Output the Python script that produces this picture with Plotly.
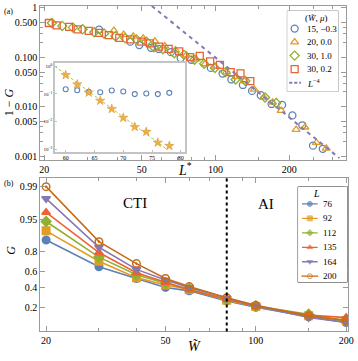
import numpy as np
import plotly.graph_objects as go

# ---------------- panel (a): 1 - G versus L* ----------------
blue_L = [33.5, 44.9, 48.9, 54.6, 58.7, 65.8, 72.1, 79.6, 95.7, 106.9, 116.1, 129.4,
          141, 153.1, 169.4, 187, 206, 226, 250, 274]
blue_v = [0.358, 0.205, 0.175, 0.154, 0.146, 0.126, 0.0955, 0.0885, 0.0606, 0.0467,
          0.0355, 0.0275, 0.0209, 0.0171, 0.0114, 0.0109, 0.0067, 0.00424, 0.00165, 0.00142]

orange_L = [38.5, 42.2, 46.2, 50.7, 56.6, 62.1, 68.7, 76.0, 83.4, 90.6, 99.5, 110.9,
            121.6, 131.3, 143.9, 157.4, 171, 185.3, 213.3, 231.7, 258.2, 283.1]
orange_v = [0.343, 0.285, 0.261, 0.238, 0.207, 0.167, 0.138, 0.110, 0.0913, 0.0727,
            0.0654, 0.0498, 0.0402, 0.0330, 0.0225, 0.0154, 0.0123, 0.0084, 0.00347,
            0.00387, 0.00189, 0.00146]

green_L = [21.5, 23.7, 26.2, 28.7, 32.0, 35.1, 39.1, 42.8, 47.6, 52.3, 56.1, 61.0,
           67.9, 74.4, 82.1, 89.9, 99.5, 109.9, 120.8, 132.4, 159.3, 177]
green_v = [0.487, 0.425, 0.393, 0.363, 0.317, 0.299, 0.264, 0.241, 0.227, 0.205, 0.158,
           0.144, 0.120, 0.111, 0.0885, 0.0737, 0.0606, 0.0498, 0.0355, 0.0330, 0.0154,
           0.0119]

red_L = [20.9, 22.5, 25.3, 27.4, 30.4, 33.5, 36.7, 40.5, 44.9, 49.9, 54.0, 58.8, 64.4,
         71.1, 78.7, 86.3, 95.1, 104.3, 115.4, 126.5, 138.7]
red_v = [0.487, 0.436, 0.405, 0.363, 0.338, 0.308, 0.277, 0.245, 0.227, 0.205, 0.189,
         0.163, 0.146, 0.130, 0.100, 0.106, 0.082, 0.070, 0.050, 0.047, 0.033]

power_L = [55, 320]
power_v = [1.07, 0.00093]

# inset
inset_x = [60, 62, 64, 66, 68, 70, 72, 74, 76, 78]
inset_circ = [0.147, 0.135, 0.119, 0.115, 0.132, 0.122, 0.098, 0.103, 0.098, 0.109]
inset_star = [0.479, 0.221, 0.112, 0.0569, 0.0285, 0.01365, 0.00638, 0.00423, 0.00172, 0.00132]
fit_x = [58.1, 77.7]
fit_y = [1.0, 0.00095]

# ---------------- panel (b): G versus W ----------------
W = [20, 30, 40, 50, 60, 80, 100, 150, 200]
sizes = ["76", "92", "112", "135", "164", "200"]
G = {
    "76": [0.875, 0.65, 0.51, 0.40, 0.36, 0.255, 0.20, 0.135, 0.105],
    "92": [0.917, 0.71, 0.52, 0.43, 0.375, 0.26, 0.205, 0.14, 0.115],
    "112": [0.946, 0.75, 0.555, 0.45, 0.385, 0.265, 0.21, 0.15, 0.11],
    "135": [0.965, 0.79, 0.58, 0.46, 0.37, 0.27, 0.205, 0.145, 0.13],
    "164": [0.982, 0.83, 0.62, 0.49, 0.40, 0.28, 0.21, 0.13, 0.105],
    "200": [0.990, 0.866, 0.685, 0.51, 0.41, 0.285, 0.215, 0.14, 0.115],
}
g_ticks = [0.2, 0.4, 0.6, 0.8, 0.95, 0.99]
w_crit = 80


def logit(p):
    p = np.asarray(p, dtype=float)
    return np.log(p / (1 - p))


FONT = "Liberation Serif"
C_BLUE, C_ORANGE, C_GREEN = "#5E81B5", "#E19C24", "#8FB032"
C_RED, C_PURPLE, C_BROWN = "#EB6235", "#8778B3", "#C56E1A"
FRAME = "#9a9a9a"

fig = go.Figure()

open_series = [
    ("15, \u22120.3", blue_L, blue_v, C_BLUE, "circle-open"),
    ("20, 0.0", orange_L, orange_v, C_ORANGE, "triangle-up-open"),
    ("30, 1.0", green_L, green_v, C_GREEN, "diamond-open"),
    ("30, 0.2", red_L, red_v, C_RED, "square-open"),
]
for name, xs, ys, col, sym in open_series:
    fig.add_trace(go.Scatter(
        x=xs, y=ys, mode="markers", name=name,
        marker=dict(symbol=sym, size=7, color=col, line=dict(width=1.3, color=col)),
        xaxis="x", yaxis="y",
    ))
fig.add_trace(go.Scatter(
    x=power_L, y=power_v, mode="lines", name="L^-4",
    line=dict(color=C_PURPLE, width=2, dash="4px,4px"), xaxis="x", yaxis="y",
))

# inset
fig.add_trace(go.Scatter(
    x=fit_x, y=fit_y, mode="lines",
    line=dict(color="#A8C84A", width=1, dash="3px,2px"), xaxis="x3", yaxis="y3",
))
fig.add_trace(go.Scatter(
    x=inset_x, y=inset_circ, mode="markers",
    marker=dict(symbol="circle-open", size=5, color=C_BLUE, line=dict(width=1.1, color=C_BLUE)),
    xaxis="x3", yaxis="y3",
))
fig.add_trace(go.Scatter(
    x=inset_x, y=inset_star, mode="markers",
    marker=dict(symbol="star", size=7, color="#EDB04A", line=dict(width=0.5, color="#D8901E")),
    xaxis="x3", yaxis="y3",
))

# panel (b)
b_style = {
    "76": (C_BLUE, "circle"),
    "92": (C_ORANGE, "square"),
    "112": (C_GREEN, "diamond"),
    "135": (C_RED, "triangle-up"),
    "164": (C_PURPLE, "triangle-down"),
    "200": (C_BROWN, "circle-open-dot"),
}
for L in sizes:
    col, sym = b_style[L]
    fig.add_trace(go.Scatter(
        x=W, y=logit(G[L]), mode="lines+markers", name=L,
        line=dict(color=col, width=1.6),
        marker=dict(symbol=sym, size=7.5, color=col, line=dict(width=1.5, color=col)),
        xaxis="x2", yaxis="y2",
    ))

# ---- hand-made compact legends (plotly's own legend rows are too tall here) ----
legend_annots = []
# legend (a): rows indexed 0..4, key column at x=299 px, text at x=310 px
for i, (name, _, _, col, sym) in enumerate(open_series):
    fig.add_trace(go.Scatter(
        x=[299.5], y=[i], mode="markers",
        marker=dict(symbol=sym, size=7, color=col, line=dict(width=1.3, color=col)),
        xaxis="x4", yaxis="y4",
    ))
    legend_annots.append(dict(text=name, x=310, y=i, xref="x4", yref="y4",
                              xanchor="left", showarrow=False, font=dict(size=9)))
fig.add_trace(go.Scatter(
    x=[294, 306], y=[4, 4], mode="lines",
    line=dict(color=C_PURPLE, width=2, dash="3px,2px"), xaxis="x4", yaxis="y4",
))
legend_annots.append(dict(text="<i>L</i><sup>\u22124</sup>", x=310, y=4, xref="x4", yref="y4",
                          xanchor="left", showarrow=False, font=dict(size=9)))
legend_annots.append(dict(text="(<i>W\u0303</i>, <i>\u03bc</i>)", x=322, y=-0.75, xref="x4",
                          yref="y4", showarrow=False, font=dict(size=9)))

# legend (b)
for i, L in enumerate(sizes):
    col, sym = b_style[L]
    fig.add_trace(go.Scatter(
        x=[307, 315, 323], y=[i, i, i], mode="lines+markers",
        line=dict(color=col, width=1.3),
        marker=dict(symbol=sym, size=[0, 5, 0], color=col, line=dict(width=1, color=col)),
        xaxis="x5", yaxis="y5",
    ))
    legend_annots.append(dict(text=L, x=326, y=i, xref="x5", yref="y5",
                              xanchor="left", showarrow=False, font=dict(size=9)))
legend_annots.append(dict(text="<i>L</i>", x=322, y=-0.75, xref="x5", yref="y5",
                          showarrow=False, font=dict(size=10)))


def label(text, px, py, size, angle=0):
    # text placed by pixel position in the 358x361 figure
    return dict(text=text, x=px / 358, y=1 - py / 361, xref="paper", yref="paper",
                xanchor="center", yanchor="middle", showarrow=False,
                textangle=angle, font=dict(size=size))


axis_common = dict(
    showline=True, mirror="ticks", linecolor=FRAME, linewidth=1,
    ticks="inside", tickcolor=FRAME, showgrid=False, zeroline=False,
    tickfont=dict(family=FONT, size=10, color="black"), ticklabeloverflow="allow",
)
hidden = dict(visible=False, showgrid=False, zeroline=False, fixedrange=True)

fig.update_layout(
    width=358, height=361,
    margin=dict(l=0, r=0, t=0, b=0),
    paper_bgcolor="white", plot_bgcolor="white",
    font=dict(family=FONT, color="black"),
    showlegend=False,
    xaxis=dict(
        axis_common, type="log", domain=[40 / 358, 352 / 358], range=[1.285, 2.533],
        anchor="y", tickvals=[20, 50, 100, 200], ticklen=5,
        minor=dict(tickvals=[30, 40, 60, 70, 80, 90, 150, 250, 300], ticks="inside",
                   ticklen=3, tickcolor=FRAME),
    ),
    yaxis=dict(
        axis_common, type="log", domain=[1 - 159 / 361, 1 - 2 / 361], range=[-3.079, 0.03],
        anchor="x", tickvals=[0.001, 0.005, 0.01, 0.05, 0.1, 0.5, 1],
        ticktext=["0.001", "0.005", "0.010", "0.050", "0.100", "0.500", "1"], ticklen=5,
        minor=dict(tickvals=[0.002, 0.003, 0.004, 0.02, 0.03, 0.04, 0.2, 0.3, 0.4],
                   ticks="inside", ticklen=3, tickcolor=FRAME),
    ),
    xaxis2=dict(
        axis_common, type="log", domain=[40 / 358, 354 / 358], range=[1.2814, 2.3075],
        anchor="y2", tickvals=[20, 50, 100, 200], ticklen=5,
        minor=dict(tickvals=[30, 40, 60, 70, 80, 90, 150], ticks="inside",
                   ticklen=3, tickcolor=FRAME),
    ),
    yaxis2=dict(
        axis_common, domain=[1 - 333 / 361, 1 - 177 / 361], range=[-2.59, 5.02],
        anchor="x2", tickvals=list(logit(g_ticks)),
        ticktext=[str(t) for t in g_ticks], ticklen=5,
    ),
    xaxis3=dict(
        showline=True, mirror=True, linecolor="#c4c4c4", linewidth=1.5,
        ticks="inside", tickcolor="#bbbbbb", ticklen=2, showgrid=False, zeroline=False,
        domain=[55 / 358, 188 / 358], range=[58.13, 80.78], anchor="y3",
        tickvals=[60, 65, 70, 75, 80], tickfont=dict(family=FONT, size=6, color="black"),
    ),
    yaxis3=dict(
        showline=True, mirror=True, linecolor="#c4c4c4", linewidth=1.5,
        ticks="inside", tickcolor="#bbbbbb", ticklen=2, showgrid=False, zeroline=False,
        type="log", domain=[1 - 150 / 361, 1 - 60 / 361], range=[-3.085, 0.117], anchor="x3",
        tickvals=[0.001, 0.01, 0.1, 1],
        ticktext=["10<sup>\u22123</sup>", "10<sup>\u22122</sup>", "10<sup>\u22121</sup>", "10<sup>0</sup>"],
        tickfont=dict(family=FONT, size=5, color="black"), ticklabelstandoff=0,
    ),
    xaxis4=dict(hidden, domain=[292 / 358, 344 / 358], range=[292, 344], anchor="y4"),
    yaxis4=dict(hidden, domain=[1 - 89 / 361, 1 - 7 / 361], range=[4.655, -1.309], anchor="x4"),
    xaxis5=dict(hidden, domain=[303 / 358, 353 / 358], range=[303, 353], anchor="y5"),
    yaxis5=dict(hidden, domain=[1 - 283 / 361, 1 - 186 / 361], range=[5.42, -1.177], anchor="x5"),
    shapes=[
        dict(type="line", xref="x2", yref="y2 domain", x0=w_crit, x1=w_crit, y0=0, y1=1,
             line=dict(color="black", width=2, dash="dot")),
        dict(type="rect", xref="x4 domain", yref="y4 domain", x0=0, x1=1, y0=0, y1=1,
             fillcolor="white", line=dict(color=FRAME, width=1), layer="below"),
        dict(type="rect", xref="x5 domain", yref="y5 domain", x0=0, x1=1, y0=0, y1=1,
             fillcolor="white", line=dict(color="#333333", width=1), layer="below"),
    ],
    annotations=[
        label("(a)", 8, 8, 8),
        label("(b)", 8, 183, 8),
        label("1 \u2212 <i>G</i>", 8, 100, 12, -90),
        label("<i>G</i>", 10, 250, 12, -90),
        label("<i>L</i><sup>*</sup>", 188, 168, 14),
        label("<i>W\u0303</i>", 197, 348, 14),
        label("CTI", 137, 202, 15),
        label("AI", 270, 203, 15),
    ] + legend_annots,
)

# the page body has a default 8px margin; drop it so the figure sits at the window's corner
fig.write_html("out.html", config={"displayModeBar": False},
               post_script="document.body.style.margin = '0';")
